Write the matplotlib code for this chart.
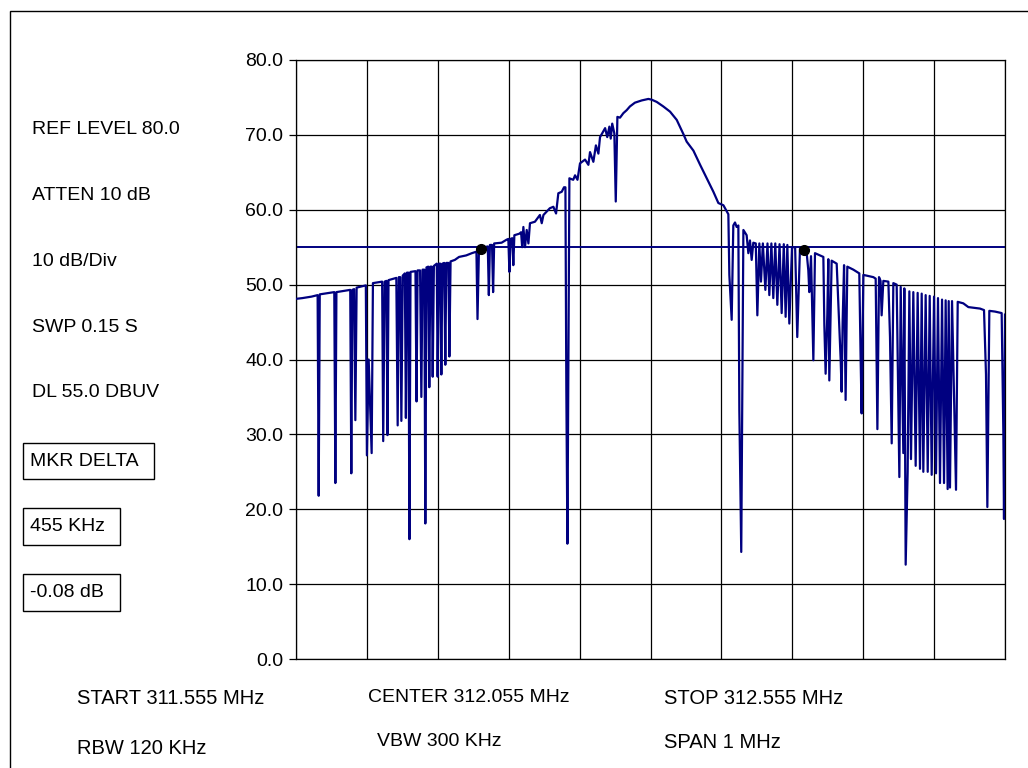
import matplotlib
matplotlib.use("Agg")
import matplotlib.pyplot as plt
from matplotlib.patches import Rectangle

plt.rcParams['font.family'] = ['Liberation Sans', 'DejaVu Sans']

# trace: offset from start frequency (kHz) and level (dBuV)
freq_khz = [
    0, 9, 22, 30.5, 32, 33.5, 54, 55.5, 57, 76.5, 78, 79.5, 82, 83.7, 85.5,
    98.5, 100, 102.5, 106.7, 108.5, 121.5, 123, 125, 127.5, 129, 130.5,
    141.5, 143.4, 145, 147, 148.6, 150.5, 153.5, 155, 156.5, 158.5, 160, 161.5,
    168.5, 170, 171.5, 175, 176.8, 178.5, 181, 182.4, 184, 186.5, 188, 189.5,
    191.5, 192.8, 194.5, 198.5, 199.8, 201.5, 203.5, 205, 206.5, 209, 210.6, 212,
    215, 216.3, 218, 224, 230, 240, 248, 254.5, 256, 258, 261, 266, 270.5, 272,
    273.5, 276.5, 278, 279.5, 290, 297, 299.5, 301, 302.5, 305, 306.5, 308, 315,
    317.5, 319, 320.7, 323, 325.4, 327.8, 330, 337, 344, 346.6, 349, 358, 363,
    366.8, 370, 374.8, 378, 380, 381.3, 382.8, 385.6, 391, 393.6, 397, 400.6,
    407.7, 412.4, 414.7, 419.4, 423, 426.5, 428.8, 436, 439, 442, 443.9, 446,
    449, 451, 453.3, 457, 461.7, 466.4, 471, 478, 487.6, 497, 501.7, 508.8, 518,
    527.6, 537, 546.4, 551, 560.5, 570, 579.3, 588.7, 595.7, 602.8, 609.8, 611.2,
    614.5, 616.8, 619.2, 621.5, 623.9, 625.3, 628, 631, 635.6, 638, 640.3, 642.7,
    645, 648.5, 650.7, 653.5, 655.8, 658.5, 662, 665, 667.6, 670.5, 673.2, 676,
    678.9, 682, 685, 688, 690.6, 693, 695.8, 699.6, 704, 707, 710.8, 716, 720.3,
    722.6, 724, 726.4, 729.7, 732, 743.8, 745.2, 747, 749.4, 750.8, 752.2, 755.5,
    762.6, 768.2, 769.6, 771, 773, 775.2, 777.6, 786.1, 794.5, 796.4, 797.8,
    800.2, 814.3, 817.6, 820, 822.3, 824.5, 826, 828.4, 835.5, 837.8, 840.2,
    842.5, 847.2, 851, 852.9, 856.6, 858, 859.9, 862.7, 865.1, 867.4, 870.7, 874,
    876.8, 880.1, 882.5, 884.8, 888.1, 891, 893.8, 896.6, 899.9, 902.7, 905.5,
    908.3, 911.2, 914, 916.3, 919.1, 920.6, 922.4, 925.3, 930.9, 933.3, 941.2,
    948.3, 964.8, 970.4, 973.2, 975.1, 977.9, 985.9, 995.3, 997.7, 998.6, 1000,
]
level_dbuv = [
    48.1, 48.2, 48.4, 48.6, 21.8, 48.7, 49.0, 23.5, 49.0, 49.3, 24.8, 49.3, 49.4, 31.9, 49.6,
    49.9, 27.2, 40.0, 27.5, 50.2, 50.4, 29.1, 50.4, 50.5, 29.9, 50.6,
    50.9, 31.2, 51.0, 51.0, 31.8, 51.2, 51.5, 32.2, 51.6, 51.6, 16.0, 51.7,
    51.8, 34.4, 51.9, 51.9, 35.0, 52.0, 52.0, 18.1, 52.3, 52.4, 36.3, 52.4,
    52.4, 37.7, 52.5, 52.8, 37.7, 52.8, 52.8, 38.0, 52.8, 52.9, 39.3, 52.9,
    52.9, 40.4, 53.1, 53.3, 53.7, 53.9, 54.2, 54.4, 45.4, 54.5, 54.7, 55.0, 55.1, 48.6,
    55.3, 55.3, 49.0, 55.5, 55.6, 56.0, 56.1, 51.7, 56.1, 56.2, 52.6, 56.6, 56.8,
    57.0, 55.0, 57.7, 55.0, 57.3, 55.5, 58.2, 58.4, 59.3, 58.2, 59.3, 60.2, 60.4,
    59.5, 62.2, 62.4, 63.0, 63.0, 36.0, 15.4, 64.2, 64.0, 64.6, 64.0, 66.2,
    66.7, 66.0, 67.7, 66.4, 68.6, 67.5, 69.7, 70.9, 69.7, 71.1, 69.5, 71.5,
    70.2, 61.1, 72.4, 72.3, 72.9, 73.3, 73.8, 74.3, 74.6, 74.8, 74.7, 74.4, 73.8,
    73.1, 72.0, 70.1, 69.1, 67.9, 66.0, 64.2, 62.4, 60.9, 60.6, 59.4, 51.3,
    45.3, 57.9, 58.3, 57.7, 57.9, 33.2, 14.3, 57.3, 56.6, 54.2, 55.9, 53.3,
    55.6, 55.5, 45.9, 55.5, 50.4, 55.5, 49.3, 55.5, 48.6, 55.5, 48.2, 55.5,
    47.3, 55.4, 46.2, 55.4, 45.7, 55.3, 44.8, 55.0, 55.0, 43.0, 54.8, 54.6, 54.2,
    51.9, 49.0, 53.8, 39.9, 54.2, 53.7, 44.6, 38.1, 46.0, 53.4, 37.2, 53.2,
    52.8, 40.0, 35.7, 45.0, 52.6, 34.6, 52.4, 52.0, 51.5, 40.0, 32.8,
    51.3, 51.0, 50.8, 30.7, 51.0, 50.5, 45.9, 50.5, 50.4, 43.0, 28.8,
    50.2, 50.0, 24.3, 49.7, 27.5, 49.5, 12.6, 25.0, 49.1, 26.7, 49.0, 25.8,
    48.9, 25.4, 48.8, 25.0, 48.6, 25.0, 48.5, 24.6, 48.4, 24.8, 48.2,
    23.5, 48.0, 23.5, 47.9, 22.7, 47.8, 22.9, 47.8, 22.6, 47.7, 47.5,
    47.0, 46.8, 46.6, 38.0, 20.3, 46.5, 46.4, 46.2, 30.0, 18.7, 46.0,
]

marker_khz = [261, 716]
marker_dbuv = [54.7, 54.6]
display_line = 55.0

yticks = [0, 10, 20, 30, 40, 50, 60, 70, 80]
xgrid = [0, 100, 200, 300, 400, 500, 600, 700, 800, 900, 1000]

settings = ["REF LEVEL 80.0", "ATTEN 10 dB", "10 dB/Div", "SWP 0.15 S", "DL 55.0 DBUV"]
marker_info = ["MKR DELTA", "455 KHz", "-0.08 dB"]

W, H = 1028, 768
fig = plt.figure(figsize=(W / 100, H / 100), dpi=100)


def fx(px):
    return px / W


def fy(py):
    return 1 - py / H


# chart border
fig.patches.append(Rectangle((fx(9.5), fy(H + 20)), fx(W + 20), (H + 20 - 11) / H,
                             transform=fig.transFigure, fill=False,
                             edgecolor='black', lw=1.0))

ax = fig.add_axes([fx(296), fy(659), fx(1005) - fx(296), (659 - 60) / H])
ax.set_xlim(0, 1000)
ax.set_ylim(0, 80)

for g in xgrid:
    ax.axvline(g, color='black', lw=0.9, zorder=1)
for g in yticks:
    ax.axhline(g, color='black', lw=0.9, zorder=1)

ax.axhline(display_line, color='#000080', lw=1.4, zorder=2)
ax.plot(freq_khz, level_dbuv, color='#000080', lw=1.6, zorder=3)
ax.plot(marker_khz, marker_dbuv, 'o', color='black', ms=7, zorder=4)

ax.set_yticks(yticks)
ax.set_yticklabels([f"{v:.1f}" for v in yticks], fontsize=14)
ax.set_xticks([])
ax.tick_params(axis='y', direction='out', length=5, width=0.9, pad=4)
for s in ax.spines.values():
    s.set_linewidth(0.9)

for i, s in enumerate(settings):
    fig.text(fx(32), fy(130 + i * 65.7), s, fontsize=14, va='center', ha='left')

boxes = [(23, 443, 154, 479), (23, 508, 120, 545), (23, 574, 120, 611)]
for (x0, y0, x1, y1), s in zip(boxes, marker_info):
    fig.patches.append(Rectangle((fx(x0), fy(y1)), fx(x1) - fx(x0), (y1 - y0) / H,
                                 transform=fig.transFigure, fill=False,
                                 edgecolor='black', lw=1.0))
    fig.text(fx(30), fy((y0 + y1) / 2), s, fontsize=14, va='center', ha='left')

fig.text(fx(77), fy(699), "START 311.555 MHz", fontsize=14.5, va='center')
fig.text(fx(77), fy(748), "RBW 120 KHz", fontsize=14.5, va='center')
fig.text(fx(368), fy(698), "CENTER 312.055 MHz", fontsize=14, va='center')
fig.text(fx(377), fy(742), "VBW 300 KHz", fontsize=14, va='center')
fig.text(fx(664), fy(698), "STOP 312.555 MHz", fontsize=14.5, va='center')
fig.text(fx(664), fy(742), "SPAN 1 MHz", fontsize=14.5, va='center')

fig.savefig("out.png", dpi=100)
